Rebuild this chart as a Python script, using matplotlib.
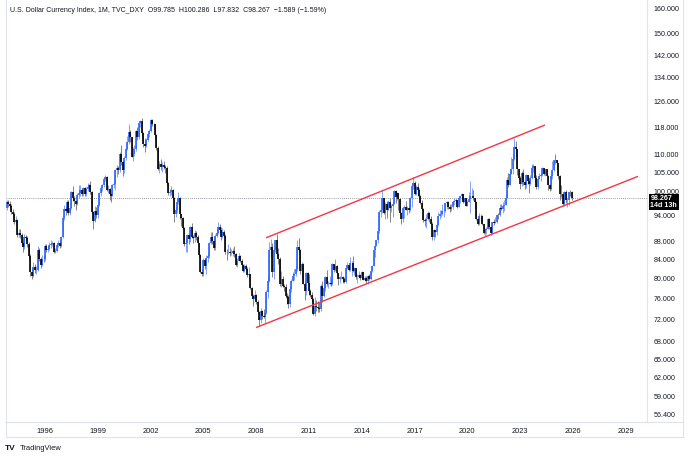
import numpy as np
import pandas as pd
import matplotlib
matplotlib.use("Agg")
import matplotlib.pyplot as plt
from matplotlib.lines import Line2D
import matplotlib.transforms as mtransforms

# monthly DXY candles, Nov 1993 .. Dec 2025
first_open = 95.8
close = [
    97.4, 96.9,
    96.5, 94.9, 94.3, 92.6, 92.9, 89.5, 89.9, 89.4, 87.7, 86.7, 88.9, 88.7,
    87.4, 84.8, 81.4, 80.5, 82.4, 81.8, 81.8, 86.1, 84.1, 82.8, 84.2, 84.1,
    87.0, 86.1, 86.3, 87.2, 87.4, 87.6, 85.6, 85.8, 87.1, 87.6, 86.9, 88.9,
    93.5, 95.6, 95.1, 97.4, 94.6, 95.9, 99.8, 98.3, 97.6, 96.8, 99.2, 99.6,
    100.4, 99.3, 100.9, 99.5, 100.6, 101.2, 101.6, 99.9, 94.9, 92.7, 95.2, 94.2,
    96.6, 99.6, 100.9, 101.6, 103.3, 103.8, 100.5, 100.7, 99.3, 99.0, 101.7, 101.9,
    105.7, 106.2, 105.8, 110.3, 107.8, 105.7, 108.9, 111.7, 113.5, 116.6, 115.0, 109.4,
    110.2, 111.6, 116.8, 115.1, 119.2, 119.9, 116.2, 112.9, 112.4, 114.2, 115.9, 116.8,
    120.2, 118.9, 119.0, 115.6, 111.9, 106.1, 107.5, 106.6, 107.1, 106.5, 106.3, 102.2,
    99.6, 99.8, 100.5, 98.5, 94.5, 95.4, 97.3, 98.5, 94.4, 93.4, 91.1, 87.4,
    87.7, 89.4, 88.5, 91.2, 89.1, 88.7, 89.9, 88.9, 87.7, 84.9, 81.4, 80.9,
    83.8, 82.5, 84.3, 84.8, 87.6, 89.1, 88.1, 86.6, 89.2, 89.9, 91.3, 90.7,
    88.9, 90.1, 89.3, 85.7, 85.6, 85.7, 85.3, 85.4, 85.9, 85.1, 82.9, 83.7,
    84.8, 83.7, 82.9, 81.6, 82.5, 82.0, 80.7, 80.9, 78.0, 76.5, 75.9, 76.7,
    75.3, 73.4, 71.9, 73.5, 72.6, 72.4, 73.1, 77.2, 79.5, 86.0, 86.7, 81.3,
    86.1, 88.2, 85.1, 84.1, 78.9, 79.9, 78.4, 78.2, 76.5, 76.2, 74.9, 77.9,
    79.5, 80.4, 81.0, 82.0, 86.7, 86.0, 81.6, 83.0, 78.9, 77.4, 81.2, 79.1,
    77.4, 76.6, 75.9, 73.0, 74.6, 74.3, 74.1, 74.0, 78.5, 76.4, 78.1, 80.2,
    78.9, 78.9, 79.0, 78.8, 83.1, 81.7, 82.6, 81.2, 79.9, 80.2, 80.2, 79.8,
    79.3, 82.2, 82.9, 81.7, 83.2, 83.2, 81.5, 82.1, 80.2, 80.2, 80.7, 80.0,
    81.3, 79.7, 80.1, 79.5, 80.4, 79.8, 81.5, 82.7, 86.0, 86.9, 88.4, 90.3,
    94.8, 95.3, 98.4, 94.6, 96.9, 95.5, 97.3, 96.0, 96.3, 96.9, 100.2, 98.6,
    99.6, 98.2, 94.6, 93.1, 95.9, 96.1, 95.5, 96.0, 95.4, 98.4, 101.5, 102.2,
    99.5, 101.1, 100.4, 99.0, 97.0, 95.6, 92.9, 92.7, 93.1, 94.6, 93.1, 92.1,
    89.1, 90.6, 90.1, 91.8, 94.0, 94.5, 94.5, 95.1, 95.1, 97.1, 97.3, 96.2,
    95.6, 96.2, 97.3, 97.5, 97.8, 96.1, 98.5, 98.9, 99.4, 97.4, 98.3, 96.4,
    97.4, 98.1, 99.0, 99.0, 98.3, 97.4, 93.3, 92.1, 93.9, 94.0, 91.9, 89.9,
    90.6, 90.9, 93.2, 91.3, 90.0, 92.4, 92.2, 92.6, 94.2, 94.1, 96.0, 95.7,
    96.5, 96.7, 98.3, 103.0, 101.8, 104.7, 105.9, 108.7, 112.1, 111.5, 105.9, 103.5,
    102.1, 104.9, 102.5, 101.7, 104.3, 102.9, 101.9, 103.6, 106.2, 106.7, 103.5, 101.3,
    103.3, 104.2, 104.5, 106.2, 104.6, 105.9, 104.1, 101.7, 100.8, 104.0, 105.7, 108.5,
    108.4, 107.6, 104.2, 99.5, 99.3, 96.9, 100.0, 97.8, 97.8, 99.8, 99.785, 98.267,
]
high = [
    97.9, 97.8,
    97.6, 96.9, 95.6, 94.9, 93.9, 93.3, 90.9, 90.8, 89.9, 88.4, 89.6, 89.5,
    89.2, 87.8, 85.2, 82.0, 83.4, 83.0, 82.6, 86.9, 86.4, 84.6, 84.9, 84.9,
    87.5, 87.4, 86.9, 87.9, 88.3, 88.0, 87.8, 86.4, 87.6, 88.3, 88.2, 89.2,
    93.8, 96.6, 96.1, 98.0, 97.9, 96.2, 100.1, 101.4, 98.9, 98.0, 99.6, 101.6,
    101.6, 100.7, 101.3, 101.1, 101.1, 102.3, 102.0, 102.7, 100.1, 95.1, 96.5, 96.1,
    97.2, 99.9, 101.3, 102.0, 103.6, 104.3, 104.0, 101.6, 100.9, 99.7, 102.1, 102.4,
    105.9, 107.2, 106.9, 110.6, 112.8, 108.5, 109.7, 112.0, 115.3, 119.0, 117.2, 115.1,
    112.3, 112.8, 117.3, 118.2, 119.4, 120.3, 121.0, 116.6, 114.8, 114.9, 116.4, 117.5,
    120.6, 120.4, 119.4, 119.0, 115.9, 112.5, 108.2, 108.8, 107.8, 108.3, 107.1, 106.8,
    102.4, 100.6, 101.5, 100.7, 98.7, 96.2, 97.9, 99.9, 98.6, 94.5, 93.7, 91.2,
    88.5, 89.6, 89.5, 91.6, 92.3, 89.5, 90.6, 90.4, 89.4, 87.7, 85.1, 82.0,
    84.4, 84.3, 85.0, 85.1, 87.9, 90.1, 90.1, 88.7, 89.7, 90.9, 92.6, 92.0,
    91.2, 91.0, 90.6, 89.7, 86.3, 87.5, 86.8, 86.3, 86.5, 86.9, 85.3, 84.3,
    85.4, 85.0, 84.2, 83.0, 83.0, 83.0, 82.3, 82.3, 81.0, 78.3, 76.8, 77.7,
    76.8, 75.6, 73.6, 74.1, 73.7, 73.9, 73.4, 77.6, 80.4, 87.9, 88.5, 87.6,
    86.6, 88.4, 89.6, 86.5, 84.6, 81.5, 80.5, 78.9, 78.9, 77.1, 76.6, 78.2,
    79.8, 81.3, 82.0, 82.5, 88.3, 88.7, 86.3, 83.4, 83.2, 79.4, 81.4, 81.4,
    81.0, 77.9, 77.2, 76.0, 76.3, 75.7, 75.5, 75.3, 78.9, 79.5, 79.9, 80.6,
    81.8, 79.4, 80.6, 79.9, 83.2, 83.0, 84.1, 82.8, 81.2, 80.4, 81.5, 80.5,
    80.3, 82.3, 83.5, 83.1, 84.5, 83.6, 84.8, 82.4, 82.1, 80.9, 81.5, 81.0,
    81.5, 81.4, 80.5, 80.4, 80.8, 80.9, 81.6, 82.9, 86.1, 87.0, 88.4, 90.4,
    95.5, 95.3, 100.4, 98.5, 97.4, 97.5, 98.0, 98.3, 96.9, 97.3, 100.5, 100.5,
    100.0, 99.3, 98.5, 95.0, 95.9, 96.7, 97.6, 96.3, 96.0, 98.7, 101.9, 103.8,
    102.9, 101.8, 102.3, 100.9, 99.2, 97.9, 96.0, 93.5, 94.3, 95.2, 95.0, 94.0,
    92.4, 90.9, 90.6, 91.9, 95.0, 95.5, 95.4, 96.9, 95.5, 97.2, 97.7, 97.7,
    96.9, 96.9, 97.7, 98.3, 98.4, 97.8, 98.7, 99.0, 99.7, 99.1, 98.5, 98.2,
    98.0, 99.9, 102.9, 100.9, 100.5, 98.5, 97.5, 93.5, 94.7, 94.4, 94.2, 92.0,
    91.0, 91.2, 93.4, 93.4, 91.4, 92.4, 93.2, 93.7, 94.5, 94.6, 96.9, 96.9,
    97.4, 97.8, 99.4, 103.9, 105.0, 105.8, 109.3, 109.5, 114.8, 113.9, 111.6, 106.0,
    104.0, 105.4, 105.9, 102.8, 104.7, 104.5, 103.6, 104.4, 107.3, 107.3, 106.9, 104.3,
    103.8, 104.9, 104.7, 106.5, 105.6, 106.1, 106.1, 104.4, 101.9, 104.6, 108.1, 108.5,
    110.2, 108.5, 107.7, 104.4, 101.8, 99.5, 100.2, 100.3, 98.5, 100.0, 100.4, 100.286,
]
low = [
    95.5, 96.2,
    95.8, 94.3, 93.6, 92.1, 91.8, 89.0, 88.9, 88.8, 87.1, 85.6, 86.3, 88.0,
    86.8, 84.2, 80.5, 79.8, 80.2, 81.2, 80.9, 81.5, 83.6, 82.1, 82.5, 83.5,
    83.6, 85.6, 85.7, 86.0, 86.6, 86.9, 85.3, 85.3, 85.6, 86.8, 86.4, 86.7,
    88.7, 93.0, 94.2, 94.8, 94.2, 94.1, 95.6, 97.6, 96.3, 95.5, 96.6, 98.4,
    98.9, 98.8, 98.8, 98.8, 98.8, 100.2, 100.6, 99.5, 94.4, 90.9, 92.5, 93.4,
    93.4, 96.3, 98.9, 100.2, 101.3, 102.9, 100.1, 99.7, 98.0, 97.4, 98.9, 101.0,
    100.4, 103.9, 104.6, 105.1, 107.2, 104.1, 104.9, 108.6, 111.3, 113.1, 113.6, 109.2,
    108.3, 109.5, 111.1, 114.1, 114.6, 118.2, 115.1, 112.3, 110.8, 112.3, 113.8, 115.0,
    116.5, 118.3, 117.6, 114.9, 111.2, 105.6, 104.9, 105.8, 105.2, 105.9, 104.8, 101.8,
    99.1, 98.9, 99.2, 97.8, 92.6, 93.6, 94.7, 96.9, 93.2, 91.6, 90.9, 86.9,
    85.6, 85.6, 87.3, 87.9, 88.7, 87.6, 87.9, 88.3, 87.3, 84.6, 81.2, 80.4,
    80.4, 82.0, 81.0, 83.5, 84.3, 87.5, 87.4, 86.1, 86.1, 88.9, 89.6, 90.0,
    88.3, 88.7, 88.9, 85.2, 83.9, 85.2, 84.8, 84.9, 84.8, 84.6, 82.6, 82.4,
    83.6, 83.5, 82.4, 81.3, 81.4, 81.8, 80.2, 80.3, 77.8, 76.1, 74.5, 75.6,
    74.9, 73.2, 70.7, 71.3, 72.1, 72.2, 71.3, 73.0, 76.1, 79.2, 84.6, 80.3,
    79.8, 85.7, 84.7, 83.1, 78.4, 78.3, 78.2, 77.5, 76.0, 74.9, 74.2, 74.4,
    77.3, 79.4, 79.7, 80.5, 81.6, 85.6, 80.9, 80.1, 78.8, 75.6, 76.6, 78.8,
    76.6, 76.3, 75.3, 72.8, 72.7, 73.5, 73.4, 73.4, 73.6, 75.2, 76.2, 77.5,
    78.5, 78.1, 78.6, 78.5, 78.6, 81.4, 81.6, 80.9, 78.6, 79.0, 79.8, 79.1,
    79.0, 79.1, 81.9, 81.5, 81.6, 80.5, 81.4, 80.7, 79.8, 79.0, 80.1, 79.7,
    79.9, 79.6, 79.5, 79.1, 78.9, 79.7, 79.7, 81.3, 82.6, 84.5, 86.9, 87.6,
    89.9, 93.7, 94.7, 94.4, 93.1, 93.5, 95.5, 92.6, 94.9, 93.8, 97.0, 97.1,
    97.8, 95.3, 94.6, 91.9, 92.6, 93.4, 95.3, 94.1, 94.6, 95.2, 96.1, 100.6,
    99.2, 99.2, 98.8, 98.8, 96.8, 95.5, 92.5, 91.6, 91.0, 92.9, 92.5, 91.8,
    88.4, 88.2, 89.1, 89.5, 91.5, 93.2, 93.7, 94.1, 93.8, 94.8, 95.7, 95.7,
    95.0, 95.2, 95.7, 96.7, 97.0, 95.8, 96.1, 97.1, 98.1, 97.1, 97.3, 96.3,
    96.4, 97.4, 94.7, 98.7, 97.9, 95.7, 92.9, 91.8, 91.8, 92.5, 91.8, 89.7,
    89.2, 89.7, 90.8, 90.9, 89.5, 89.6, 91.8, 92.2, 92.3, 93.3, 93.9, 95.5,
    94.6, 95.2, 97.7, 98.3, 101.3, 101.6, 104.7, 104.6, 108.6, 109.5, 104.4, 103.4,
    100.8, 101.5, 101.6, 100.8, 101.0, 101.9, 99.6, 101.7, 103.3, 105.3, 102.5, 100.6,
    100.8, 103.4, 102.7, 104.0, 104.4, 104.2, 104.0, 100.5, 100.2, 100.3, 103.4, 105.4,
    107.3, 106.1, 103.2, 97.9, 98.7, 96.4, 96.4, 97.1, 96.2, 96.7, 98.9, 97.832,
]

# channel lines drawn on the chart: (year, price)
upper_line = [(2008.56, 88.8), (2024.41, 118.7)]
lower_line = [(2007.99, 70.5), (2029.69, 104.0)]

last_price = 98.267
y_ticks = [56.4, 59, 62, 65, 68, 72, 76, 80, 84, 88, 94, 100, 105, 110, 118, 126, 134, 142, 150, 160]
x_years = [1996, 1999, 2002, 2005, 2008, 2011, 2014, 2017, 2020, 2023, 2026, 2029]
title = "U.S. Dollar Currency Index, 1M, TVC_DXY  O99.785  H100.286  L97.832  C98.267  \u22121.589 (\u22121.59%)"

dates = pd.date_range("1993-11-01", periods=len(close), freq="MS")
t = np.asarray(dates.year + (dates.month - 1) / 12.0)
c = np.array(close)
o = np.array([first_open] + close[:-1])
h = np.maximum(np.array(high), np.maximum(o, c))
l = np.minimum(np.array(low), np.minimum(o, c))
up = c >= o

plt.rcParams["font.family"] = ["Liberation Sans", "DejaVu Sans"]
BLUE = "#2962ff"
TXT = "#131722"
BORDER = "#e0e3eb"

W, H = 690, 458
fig = plt.figure(figsize=(W / 100, H / 100), dpi=100)
fig.patch.set_facecolor("white")

ax_l, ax_r, ax_b, ax_t = 5.5, 647, 422, 0
ax = fig.add_axes([ax_l / W, 1 - ax_b / H, (ax_r - ax_l) / W, (ax_b - ax_t) / H])
ax.set_yscale("log")

# x: 17.6 px per year, Jan 1996 at px 45
px_year = 17.6
ax.set_xlim(1996 + (ax_l - 45) / px_year, 1996 + (ax_r - 45) / px_year)
ax.set_ylim(55.3, 163.7)

# candles
ax.vlines(t[up], l[up], h[up], color="#7f9cf5", lw=0.65, zorder=2)
ax.vlines(t[~up], l[~up], h[~up], color="#7a7a7a", lw=0.65, zorder=2)
ax.vlines(t[up], o[up], c[up], color=BLUE, lw=1.2, zorder=3)
ax.vlines(t[~up], c[~up], o[~up], color="black", lw=1.2, zorder=3)

# channel
for seg in (upper_line, lower_line):
    xs, ys = zip(*seg)
    ax.plot(xs, ys, color="#f23645", lw=1.0, zorder=4, solid_capstyle="butt")

ax.axhline(last_price, color="#787b86", lw=0.6, ls=(0, (1, 1.5)), zorder=1)

ax.yaxis.tick_right()
ax.set_yticks(y_ticks)
ax.set_yticklabels(["%.3f" % v for v in y_ticks])
ax.yaxis.set_minor_locator(matplotlib.ticker.NullLocator())
ax.set_xticks(x_years)
ax.set_xticklabels([str(y) for y in x_years])
ax.tick_params(axis="y", length=0, pad=5, labelsize=5.1, labelcolor=TXT)
ax.tick_params(axis="x", length=0, pad=4, labelsize=5.4, labelcolor=TXT)
for s in ax.spines.values():
    s.set_color(BORDER)
    s.set_linewidth(0.8)
ax.spines["top"].set_visible(False)

# bottom strip / right border lines
fig.add_artist(Line2D([ax_l / W, 683 / W], [1 - 437 / H] * 2, color=BORDER, lw=0.8))
fig.add_artist(Line2D([ax_l / W, 683 / W], [1 - 422 / H] * 2, color=BORDER, lw=0.8))
fig.add_artist(Line2D([683 / W] * 2, [1 - 437 / H, 1], color=BORDER, lw=0.8))
fig.add_artist(Line2D([ax_l / W] * 2, [1 - 437 / H, 1 - 422 / H], color=BORDER, lw=0.8))

# last price tag, nudged down a little so it sits between the 100 and 94 labels
trans = mtransforms.blended_transform_factory(ax.transAxes, ax.transData)
ax.annotate("98.267\n14d 13h", xy=(1.0, last_price), xycoords=trans,
            xytext=(2.5, -2.6), textcoords="offset points", ha="left", va="center",
            color="white", fontsize=5.1, fontweight="bold", linespacing=1.0,
            annotation_clip=False,
            bbox=dict(boxstyle="square,pad=0.2", fc="#000000", ec="none"), zorder=5)

fig.text(10 / W, 1 - 10 / H, title, ha="left", va="center", fontsize=5.0, color=TXT)
fig.text(5 / W, 1 - 448 / H, "TV", ha="left", va="center", fontsize=6, fontweight="heavy", color=TXT)
fig.text(20 / W, 1 - 448 / H, "TradingView", ha="left", va="center", fontsize=5.4, color=TXT)

fig.savefig("out.png", dpi=100, facecolor="white")
